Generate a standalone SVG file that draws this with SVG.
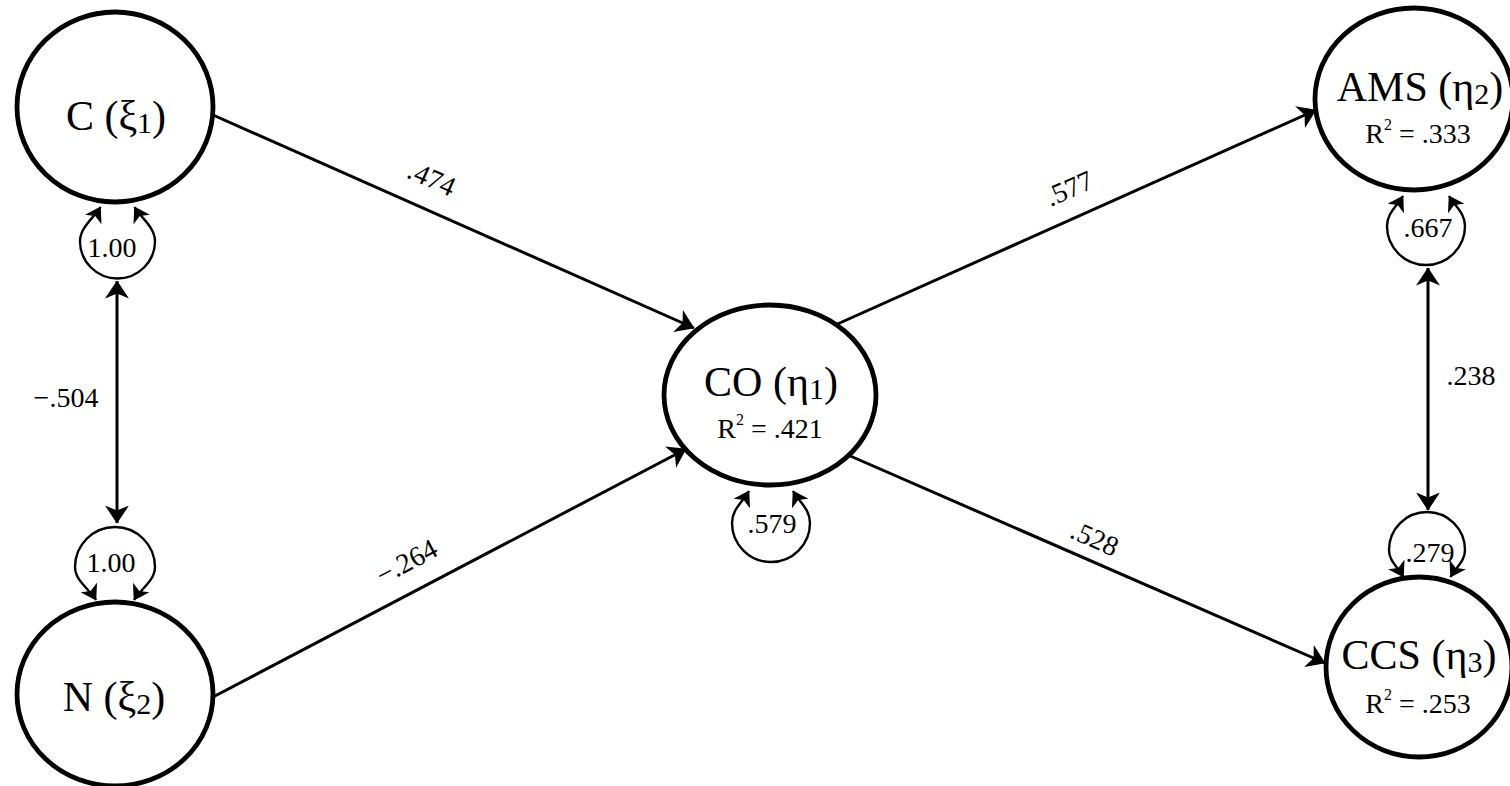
<svg xmlns="http://www.w3.org/2000/svg" width="1510" height="786" viewBox="0 0 1510 786" font-family="'Liberation Serif','DejaVu Serif','Times New Roman',serif">
<style>
text{font-family:"Liberation Serif","DejaVu Serif","Times New Roman",serif;fill:#000}
.node{fill:#fff;stroke:#000;stroke-width:4.8}
.nm{font-size:42px;text-anchor:middle}
.sub{font-size:30px}
.r2{font-size:28px;text-anchor:middle}
.sup{font-size:16px}
.lbl{font-size:28px;text-anchor:middle}
.edge{fill:none;stroke:#000;stroke-width:3}
.loop{fill:none;stroke:#000;stroke-width:2.4}
</style>
<defs>
<marker id="ah" viewBox="0 0 18 24" refX="17.5" refY="12" markerWidth="18" markerHeight="24" orient="auto-start-reverse" markerUnits="userSpaceOnUse"><path d="M0,0 L18,12 L0,24 L5,12 z" fill="#000"/></marker>
<marker id="ahs" viewBox="0 0 15 19" refX="14.5" refY="9.5" markerWidth="15" markerHeight="19" orient="auto-start-reverse" markerUnits="userSpaceOnUse"><path d="M0,0 L15,9.5 L0,19 L4,9.5 z" fill="#000"/></marker>
</defs>

<g id="connectors">
<line class="edge" x1="213" y1="115" x2="694" y2="328" marker-end="url(#ah)"/>
<line class="edge" x1="213" y1="697" x2="686" y2="449" marker-end="url(#ah)"/>
<line class="edge" x1="833" y1="326" x2="1316" y2="110" marker-end="url(#ah)"/>
<line class="edge" x1="848" y1="455" x2="1325" y2="663" marker-end="url(#ah)"/>
<line class="edge" x1="117" y1="281" x2="117" y2="523" marker-start="url(#ah)" marker-end="url(#ah)"/>
<line class="edge" x1="1428" y1="268" x2="1428" y2="510" marker-start="url(#ah)" marker-end="url(#ah)"/>
<path class="loop" transform="translate(117.5,241)" d="M-17,-34 C-23,-23.6 -37.5,-14 -37.5,0 C-37.5,20.7 -20.7,37.5 0,37.5 C20.7,37.5 37.5,20.7 37.5,0 C37.5,-14 23,-23.6 17,-34" marker-start="url(#ahs)" marker-end="url(#ahs)"/>
<path class="loop" transform="translate(115,567) scale(1,-1)" d="M-19,-33 C-25,-22.6 -40,-14 -40,0 C-40,22 -22,40 0,40 C22,40 40,22 40,0 C40,-14 25,-22.6 19,-33" marker-start="url(#ahs)" marker-end="url(#ahs)"/>
<path class="loop" transform="translate(771,523)" d="M-22,-32 C-28,-21.6 -39,-14 -39,0 C-39,21.5 -21.5,39 0,39 C21.5,39 39,21.5 39,0 C39,-14 28,-21.6 22,-32" marker-start="url(#ahs)" marker-end="url(#ahs)"/>
<path class="loop" transform="translate(1426,226)" d="M-23,-30 C-29,-19.6 -39,-13 -39,0 C-39,21.5 -21.5,39 0,39 C21.5,39 39,21.5 39,0 C39,-13 29,-19.6 23,-30" marker-start="url(#ahs)" marker-end="url(#ahs)"/>
<path class="loop" transform="translate(1427,550) scale(1,-1)" d="M-23.5,-27 C-29.5,-16.6 -38,-11 -38,0 C-38,21 -21,38 0,38 C21,38 38,21 38,0 C38,-11 29.5,-16.6 23.5,-27" marker-start="url(#ahs)" marker-end="url(#ahs)"/>
<text class="lbl" transform="translate(428,187) rotate(24)">.474</text>
<text class="lbl" transform="translate(411,570) rotate(-28)">−.264</text>
<text class="lbl" transform="translate(1073,197) rotate(-24)">.577</text>
<text class="lbl" transform="translate(1091,547) rotate(24)">.528</text>
<text class="lbl" x="66" y="407">−.504</text>
<text class="lbl" x="1471" y="385">.238</text>
<text class="lbl" x="112" y="257">1.00</text>
<text class="lbl" x="111" y="572">1.00</text>
<text class="lbl" x="772" y="533">.579</text>
<text class="lbl" x="1428" y="237">.667</text>
<text class="lbl" x="1430" y="562">.279</text>
</g>

<g id="node-C">
<ellipse class="node" cx="115" cy="107" rx="98" ry="95"/>
<text class="nm" x="116" y="130">C (ξ<tspan class="sub" dy="3">1</tspan><tspan dy="-3">)</tspan></text>
</g>
<g id="node-N">
<ellipse class="node" cx="115" cy="694" rx="98" ry="92"/>
<text class="nm" x="114" y="711">N (ξ<tspan class="sub" dy="3">2</tspan><tspan dy="-3">)</tspan></text>
</g>
<g id="node-CO">
<ellipse class="node" cx="770" cy="395" rx="106" ry="90"/>
<text class="nm" x="771" y="396">CO (η<tspan class="sub" dy="3">1</tspan><tspan dy="-3">)</tspan></text>
<text class="r2" x="770" y="438">R<tspan class="sup" dy="-13">2</tspan><tspan dy="13"> = .421</tspan></text>
</g>
<g id="node-AMS">
<ellipse class="node" cx="1414" cy="99" rx="99" ry="91"/>
<text class="nm" x="1420" y="101">AMS (η<tspan class="sub" dy="3">2</tspan><tspan dy="-3">)</tspan></text>
<text class="r2" x="1418" y="143">R<tspan class="sup" dy="-13">2</tspan><tspan dy="13"> = .333</tspan></text>
</g>
<g id="node-CCS">
<ellipse class="node" cx="1419" cy="667" rx="93" ry="90"/>
<text class="nm" x="1419" y="669">CCS (η<tspan class="sub" dy="3">3</tspan><tspan dy="-3">)</tspan></text>
<text class="r2" x="1418" y="713">R<tspan class="sup" dy="-13">2</tspan><tspan dy="13"> = .253</tspan></text>
</g>
</svg>
